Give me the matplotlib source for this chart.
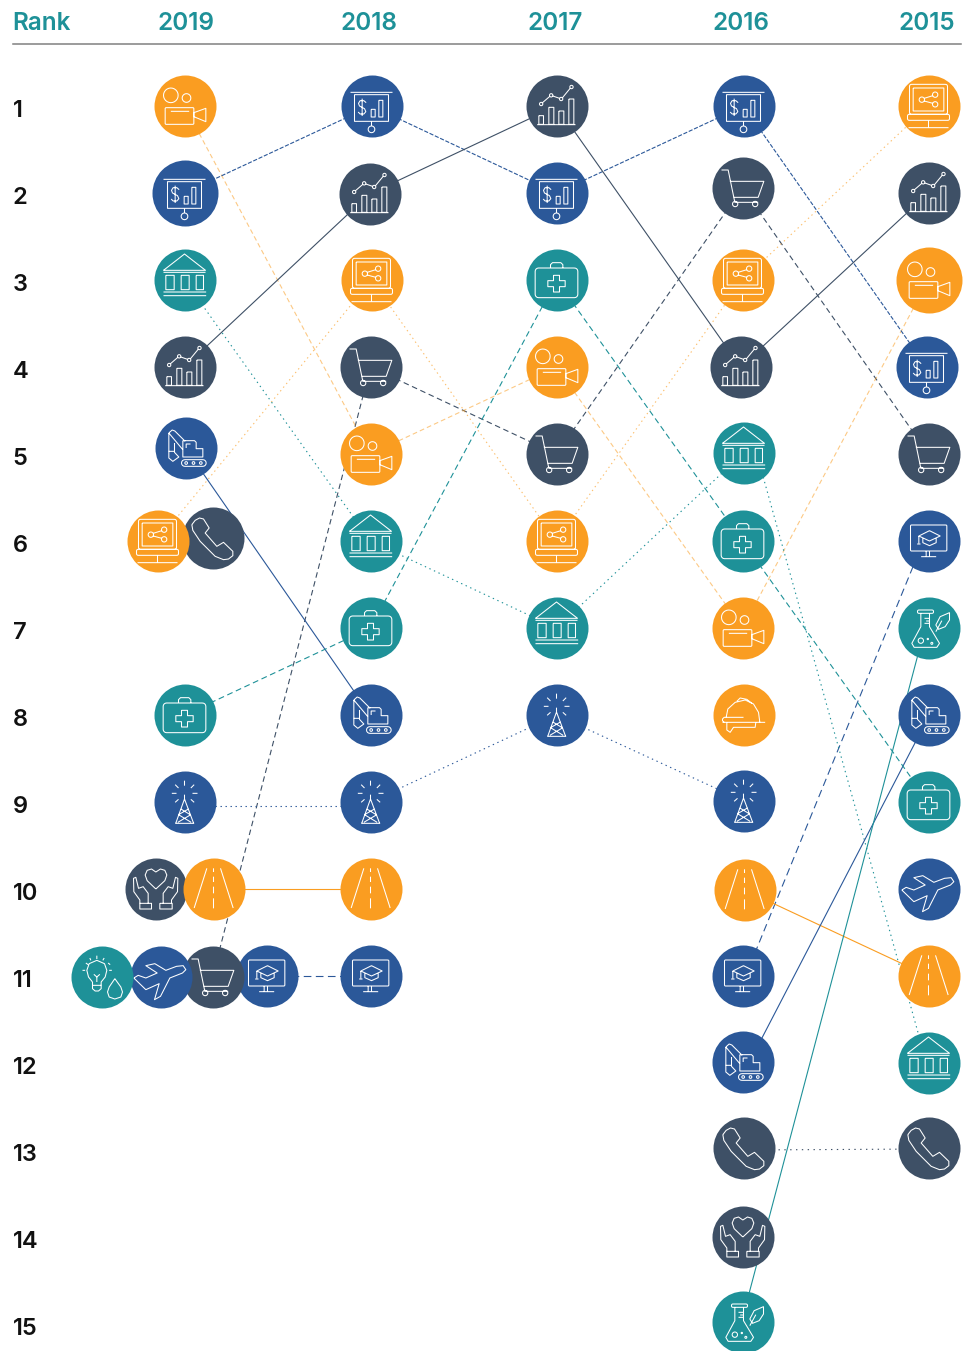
import matplotlib
matplotlib.use("Agg")
import matplotlib.pyplot as plt
from matplotlib.path import Path
from matplotlib.collections import PathCollection
from matplotlib.transforms import IdentityTransform
import numpy as np

plt.rcParams['font.family'] = ['Inter', 'DejaVu Sans']
plt.rcParams['lines.scale_dashes'] = False

# ---------- data: rank of each sector per year (None = not ranked) ----------
YEARS = [2019, 2018, 2017, 2016, 2015]
RANKS = list(range(1, 16))
film_tv      = [1, 5, 4, 7, 3]
finance      = [2, 1, 2, 1, 4]
banks        = [3, 6, 7, 5, 12]
data_science = [4, 2, 1, 4, 2]
construction = [5, 8, None, 12, 8]
it_software  = [6, 3, 6, 3, 1]
telecom_svc  = [6, None, None, 13, 13]
health_care  = [8, 7, 3, 6, 9]
telecom_net  = [9, 9, 8, 9, None]
wellbeing    = [10, None, None, 14, None]
roads        = [10, 10, None, 10, 11]
energy_water = [11, None, None, None, None]
aviation     = [11, None, None, None, 10]
retail       = [11, 4, 5, 2, 5]
education    = [11, 11, None, 11, 6]
safety       = [None, None, None, 8, None]
biotech      = [None, None, None, 15, 7]

ORANGE, BLUE, TEAL, SLATE = '#FA9D21', '#2B5899', '#1E9198', '#3E5066'

# ---------- icons: outlines in 3x-zoom pixels around an origin ----------
def poly(o, pts, closed=False):
    a = [((x - o[0]) / 3, -(y - o[1]) / 3) for x, y in pts]
    if closed:
        a.append(a[0])
    return a

def rect(o, x0, y0, x1, y1):
    return poly(o, [(x0, y0), (x1, y0), (x1, y1), (x0, y1)], True)

def rrect(o, x0, y0, x1, y1, r):
    pts = []
    for cx, cy, t0 in [(x1 - r, y0 + r, -90), (x1 - r, y1 - r, 0), (x0 + r, y1 - r, 90), (x0 + r, y0 + r, 180)]:
        for t in np.radians(np.linspace(t0, t0 + 90, 5)):
            pts.append((cx + r * np.cos(t), cy + r * np.sin(t)))
    return poly(o, pts, True)

def circ(o, cx, cy, r):
    t = np.linspace(0, 2 * np.pi, 25)[:-1]
    return poly(o, list(zip(cx + r * np.cos(t), cy + r * np.sin(t))), True)

def segs(o, *lines):
    return [poly(o, l) for l in lines]

def make(*parts):
    verts, codes = [], []
    for p in parts:
        items = p if isinstance(p[0], list) else [p]
        for line in items:
            verts += line
            codes += [Path.MOVETO] + [Path.LINETO] * (len(line) - 1)
    return Path(verts, codes)

o = (556, 320)
I_CAMERA = make(circ(o, 515, 288, 22), circ(o, 562, 296, 13), rrect(o, 498, 325, 584, 375, 3),
                poly(o, [(584, 340), (620, 327), (620, 367), (584, 352)], True), segs(o, [(515, 336), (570, 336)]))
o = (1116, 318)
I_BOARD = make(segs(o, [(1053, 277), (1179, 277)], [(1116, 364), (1116, 378)],
                    [(1100, 308), (1093, 302), (1082, 302), (1077, 310), (1080, 318), (1095, 326), (1099, 335), (1093, 342), (1082, 342), (1076, 336)],
                    [(1088, 296), (1088, 348)]),
               rect(o, 1065, 284, 1167, 364), circ(o, 1116, 388, 10), rect(o, 1115, 328, 1127, 351), rect(o, 1138, 301, 1150, 351))
o = (1111, 581)
I_CHART = make(rect(o, 1058, 610, 1072, 636), rect(o, 1088, 585, 1103, 636), rect(o, 1118, 596, 1133, 636), rect(o, 1148, 560, 1163, 636),
               segs(o, [(1053, 637), (1168, 637)], [(1069, 571), (1091, 552)], [(1100, 551), (1120, 558)], [(1129, 556), (1152, 528)]),
               circ(o, 1065, 575, 5), circ(o, 1095, 549, 5), circ(o, 1125, 560, 5), circ(o, 1156, 524, 5))
o = (553, 841)
I_BANK = make(poly(o, [(490, 812), (553, 763), (616, 812)], True), rect(o, 497, 827, 522, 870), rect(o, 543, 827, 567, 870), rect(o, 588, 827, 610, 870),
              segs(o, [(490, 818), (616, 818)], [(490, 877), (618, 877)], [(490, 888), (618, 888)]))
o = (1115, 841)
I_LAPTOP = make(rrect(o, 1058, 776, 1172, 866, 6), rect(o, 1069, 787, 1161, 856), rrect(o, 1052, 866, 1178, 884, 5),
                circ(o, 1095, 822, 8), circ(o, 1135, 807, 8), circ(o, 1135, 836, 8),
                segs(o, [(1102, 818), (1128, 810)], [(1102, 826), (1128, 833)], [(1115, 884), (1115, 906)], [(1055, 906), (1175, 906)]))
o = (378, 145)
I_DIGGER = make(poly(o, [(370, 123), (405, 123), (410, 128), (410, 147), (430, 147), (430, 172), (370, 172)], True),
                segs(o, [(380, 145), (380, 133), (393, 133)], [(328, 100), (338, 91), (346, 94), (377, 125)], [(328, 100), (370, 150)],
                     [(328, 100), (328, 175), (340, 185), (358, 172), (345, 158), (345, 130)], [(328, 155), (345, 155)]),
                rrect(o, 366, 180, 440, 200, 10), circ(o, 380, 190, 4), circ(o, 402, 190, 4), circ(o, 424, 190, 4))
o = (457, 415)
I_PHONE = make(poly(o, [(395, 375), (405, 362), (418, 355), (430, 358), (447, 385), (435, 400), (470, 440), (490, 428), (518, 455), (518, 468), (505, 478), (490, 480), (465, 470), (420, 425), (398, 392)], True))
o = (932, 684)
I_CASE = make(rrect(o, 868, 648, 996, 737, 10), segs(o, [(914, 648), (914, 638), (920, 632), (945, 632), (951, 638), (951, 648)]),
              poly(o, [(923, 670), (941, 670), (941, 686), (958, 686), (958, 704), (941, 704), (941, 720), (923, 720), (923, 704), (906, 704), (906, 686), (923, 686)], True))
o = (376, 364)
I_TOWER = make(segs(o, [(376, 342), (376, 355)], [(376, 355), (350, 427)], [(376, 355), (403, 427)], [(348, 428), (405, 428)],
                    [(365, 385), (393, 402)], [(388, 385), (358, 402)], [(358, 402), (396, 425)], [(395, 402), (356, 425)],
                    [(376, 300), (376, 315)], [(348, 312), (358, 322)], [(405, 312), (395, 322)], [(338, 338), (352, 338)],
                    [(400, 338), (415, 338)], [(348, 365), (358, 356)], [(405, 365), (395, 356)]))
o = (287, 627)
I_HANDS = make(poly(o, [(288, 627), (262, 602), (256, 585), (262, 571), (275, 567), (288, 576), (302, 567), (315, 571), (321, 585), (315, 602)], True),
               segs(o, [(240, 670), (240, 660), (222, 635), (221, 595), (228, 592), (236, 625), (250, 620), (265, 640), (265, 670)],
                    [(335, 670), (335, 660), (353, 635), (354, 595), (347, 592), (339, 625), (325, 620), (310, 640), (310, 670)]),
               rect(o, 240, 670, 275, 687), rect(o, 300, 670, 337, 687))
o = (463, 627)
I_ROAD = make(segs(o, [(443, 565), (405, 684)], [(484, 565), (522, 684)], [(463, 565), (463, 576)], [(463, 590), (463, 606)], [(463, 620), (463, 640)], [(463, 655), (463, 685)]))
o = (127, 890)
I_BULB = make(poly(o, [(100, 905), (88, 890), (83, 870), (90, 850), (113, 840), (136, 850), (143, 870), (138, 890), (126, 905), (126, 925), (118, 932), (108, 932), (100, 925)], True),
              segs(o, [(113, 826), (113, 836)], [(80, 848), (87, 853)], [(147, 848), (153, 853)], [(70, 870), (78, 870)], [(150, 870), (158, 870)],
                   [(92, 833), (95, 840)], [(135, 833), (131, 840)], [(100, 915), (126, 915)], [(113, 905), (113, 890)], [(113, 890), (104, 882)], [(113, 890), (122, 882)]),
              poly(o, [(167, 895), (150, 920), (145, 935), (150, 950), (167, 956), (185, 950), (190, 935), (185, 920)], True))
o = (302, 890)
I_PLANE = make(poly(o, [(222, 893), (258, 928), (298, 910), (284, 958), (302, 948), (330, 893), (368, 878), (378, 868), (370, 856), (350, 858), (318, 870), (285, 850), (258, 856), (292, 878), (258, 893), (235, 885)], True))
o = (458, 892)
I_CART = make(segs(o, [(395, 838), (415, 838), (435, 935), (505, 935)], [(420, 872), (522, 872), (505, 920), (432, 920)]),
              circ(o, 436, 940, 8), circ(o, 496, 940, 8))
o = (622, 888)
I_MONITOR = make(rrect(o, 568, 840, 677, 918, 3), poly(o, [(625, 857), (657, 873), (625, 888), (593, 873)], True),
                 segs(o, [(615, 918), (615, 935)], [(625, 918), (625, 935)], [(600, 935), (645, 935)], [(605, 880), (605, 893), (625, 902), (645, 893), (645, 880)], [(593, 873), (593, 895)], [(588, 897), (598, 897)]))
o = (160, 373)
I_HAT = make(segs(o, [(97, 395), (225, 395)], [(108, 380), (113, 355), (135, 335), (165, 328), (190, 340), (205, 365), (209, 395)],
                  [(160, 380), (102, 380), (97, 385), (97, 390), (102, 395)], [(110, 395), (110, 418), (120, 425), (130, 410), (195, 410), (197, 395)], [(140, 332), (150, 322), (170, 326), (185, 338)]))
o = (715, 114)
I_FLASK = make(rrect(o, 682, 60, 730, 70, 4), poly(o, [(692, 70), (692, 110), (665, 160), (672, 172), (740, 172), (748, 160), (718, 110), (718, 70)]),
               segs(o, [(703, 85), (718, 85)], [(703, 100), (718, 100)], [(708, 93), (718, 93)], [(737, 125), (755, 92)]),
               circ(o, 692, 152, 8), circ(o, 725, 160, 3), circ(o, 713, 147, 2),
               poly(o, [(778, 68), (750, 80), (737, 105), (745, 118), (765, 110), (778, 90)], True))

# sector: ranks, colour, line dash (points) or None for solid, line alpha, icon; earlier = on top
SECTORS = [
    (energy_water, TEAL, None, 1, I_BULB), (aviation, BLUE, None, 1, I_PLANE), (retail, SLATE, (4.0, 2.6), 1, I_CART),
    (education, BLUE, (5.5, 3.2), 1, I_MONITOR), (roads, ORANGE, None, 1, I_ROAD), (wellbeing, SLATE, None, 1, I_HANDS),
    (it_software, ORANGE, (1.0, 2.4), 0.65, I_LAPTOP), (telecom_svc, SLATE, (1.0, 3.2), 1, I_PHONE),
    (film_tv, ORANGE, (3.4, 2.2), 0.55, I_CAMERA), (finance, BLUE, (3.0, 1.2), 1, I_BOARD), (banks, TEAL, (1.0, 2.6), 1, I_BANK),
    (data_science, SLATE, None, 1, I_CHART), (construction, BLUE, None, 1, I_DIGGER), (health_care, TEAL, (4.2, 2.6), 1, I_CASE),
    (telecom_net, BLUE, (1.0, 2.6), 1, I_TOWER), (safety, ORANGE, None, 1, I_HAT), (biotech, TEAL, None, 1, I_FLASK),
]

# ---------- layout (pixels) ----------
W, H = 972, 1351
COL_X0, COL_DX = 184.5, 186.0
ROW_Y0, ROW_DY = 106.0, 87.0
RADIUS = 31.0
NUDGE = {  # (series id, year): (dx, dy) in pixels; ties sit side by side
    (id(it_software), 2019): (-27, 0), (id(telecom_svc), 2019): (28, -3),
    (id(wellbeing), 2019): (-29, 0), (id(roads), 2019): (29, 0),
    (id(energy_water), 2019): (-83, 1), (id(aviation), 2019): (-24, 1), (id(retail), 2019): (28, 1), (id(education), 2019): (82, 0),
    (id(construction), 2019): (1, -6), (id(retail), 2016): (0, -5), (id(finance), 2015): (-2, 0), (id(data_science), 2016): (-2, 0),
    (id(data_science), 2018): (-1, 1), (id(telecom_svc), 2016): (1, -2), (id(telecom_svc), 2015): (0, -2),
    (id(biotech), 2016): (0, -2), (id(roads), 2016): (2, 1), (id(finance), 2018): (1, 0), (id(it_software), 2018): (1, 0),
    (id(finance), 2016): (1, 0), (id(telecom_net), 2016): (1, -1), (id(safety), 2016): (1, 0), (id(banks), 2016): (1, -1),
    (id(construction), 2016): (0, -1),
}
BIG = {(id(finance), 2019): 33.0, (id(film_tv), 2015): 33.0}
# connector ends that sit off the circle centre: (series id, left year): (dx0, dy0, dx1, dy1) in pixels
LINE_NUDGE = {
    (id(banks), 2016): (13, 0, -2, 0), (id(biotech), 2016): (-1, 0, -3.5, 0), (id(education), 2016): (3, 0, -5, 0),
    (id(construction), 2016): (7, 0, 1, 0), (id(telecom_net), 2019): (0, 4, 0, 4), (id(telecom_svc), 2016): (0, 2, 0, 1),
}

fig = plt.figure(figsize=(W / 100, H / 100), dpi=100, facecolor='white')
ax = fig.add_axes([0, 0, 1, 1])
ax.set_xlim(2019 + COL_X0 / COL_DX, 2019 - (W - COL_X0) / COL_DX)
ax.set_ylim(1 + (H - ROW_Y0) / ROW_DY, 1 - ROW_Y0 / ROW_DY)
ax.axis('off')

def place(series, i):
    dx, dy = NUDGE.get((id(series), YEARS[i]), (0, 0))
    return YEARS[i] - dx / COL_DX, series[i] + dy / ROW_DY

for s_i, (series, color, dash, alpha, icon) in enumerate(SECTORS):
    ls = '-' if dash is None else (0, dash)
    for i in range(len(YEARS) - 1):
        if series[i] is not None and series[i + 1] is not None:
            a, b = place(series, i), place(series, i + 1)
            n = LINE_NUDGE.get((id(series), YEARS[i]), (0, 0, 0, 0))
            ax.plot([a[0] - n[0] / COL_DX, b[0] - n[2] / COL_DX], [a[1] + n[1] / ROW_DY, b[1] + n[3] / ROW_DY],
                    color=color, alpha=alpha, lw=0.8, ls=ls, zorder=1, solid_capstyle='butt', dash_capstyle='butt')
    z = 200 - 2 * s_i
    for i, year in enumerate(YEARS):
        if series[i] is None:
            continue
        x, y = place(series, i)
        r = BIG.get((id(series), year), RADIUS)
        ax.scatter([x], [y], s=(2 * r * 0.72) ** 2, color=color, linewidths=0, zorder=z)
        c = PathCollection([icon], facecolors='none', edgecolors='white', linewidths=0.75,
                           offsets=[(x, y)], offset_transform=ax.transData, zorder=z + 1)
        c.set_transform(IdentityTransform())
        ax.add_collection(c, autolim=False)

# header
YEAR_LABEL_DX = [1.5, -1.5, -1.5, -1.5, -1.5]
HEAD_Y = 1 + (23.5 - ROW_Y0) / ROW_DY
LEFT = 2019 + (COL_X0 - 12.5) / COL_DX
for year, dx in zip(YEARS, YEAR_LABEL_DX):
    ax.text(year - dx / COL_DX, HEAD_Y, str(year), color=TEAL, fontsize=17.5, fontweight='semibold', ha='center', va='center')
ax.text(LEFT, HEAD_Y, 'Rank', color=TEAL, fontsize=17.5, fontweight='semibold', ha='left', va='center')
ax.plot([LEFT, 2019 - (961 - COL_X0) / COL_DX], [1 + (44 - ROW_Y0) / ROW_DY] * 2, color='#808080', lw=1.1, zorder=2)

# rank labels
for rank in RANKS:
    ax.text(LEFT, rank + 5 / ROW_DY, str(rank), color='#111111', fontsize=17, fontweight='semibold', ha='left', va='center')

fig.savefig('out.png', dpi=100, facecolor='white')
